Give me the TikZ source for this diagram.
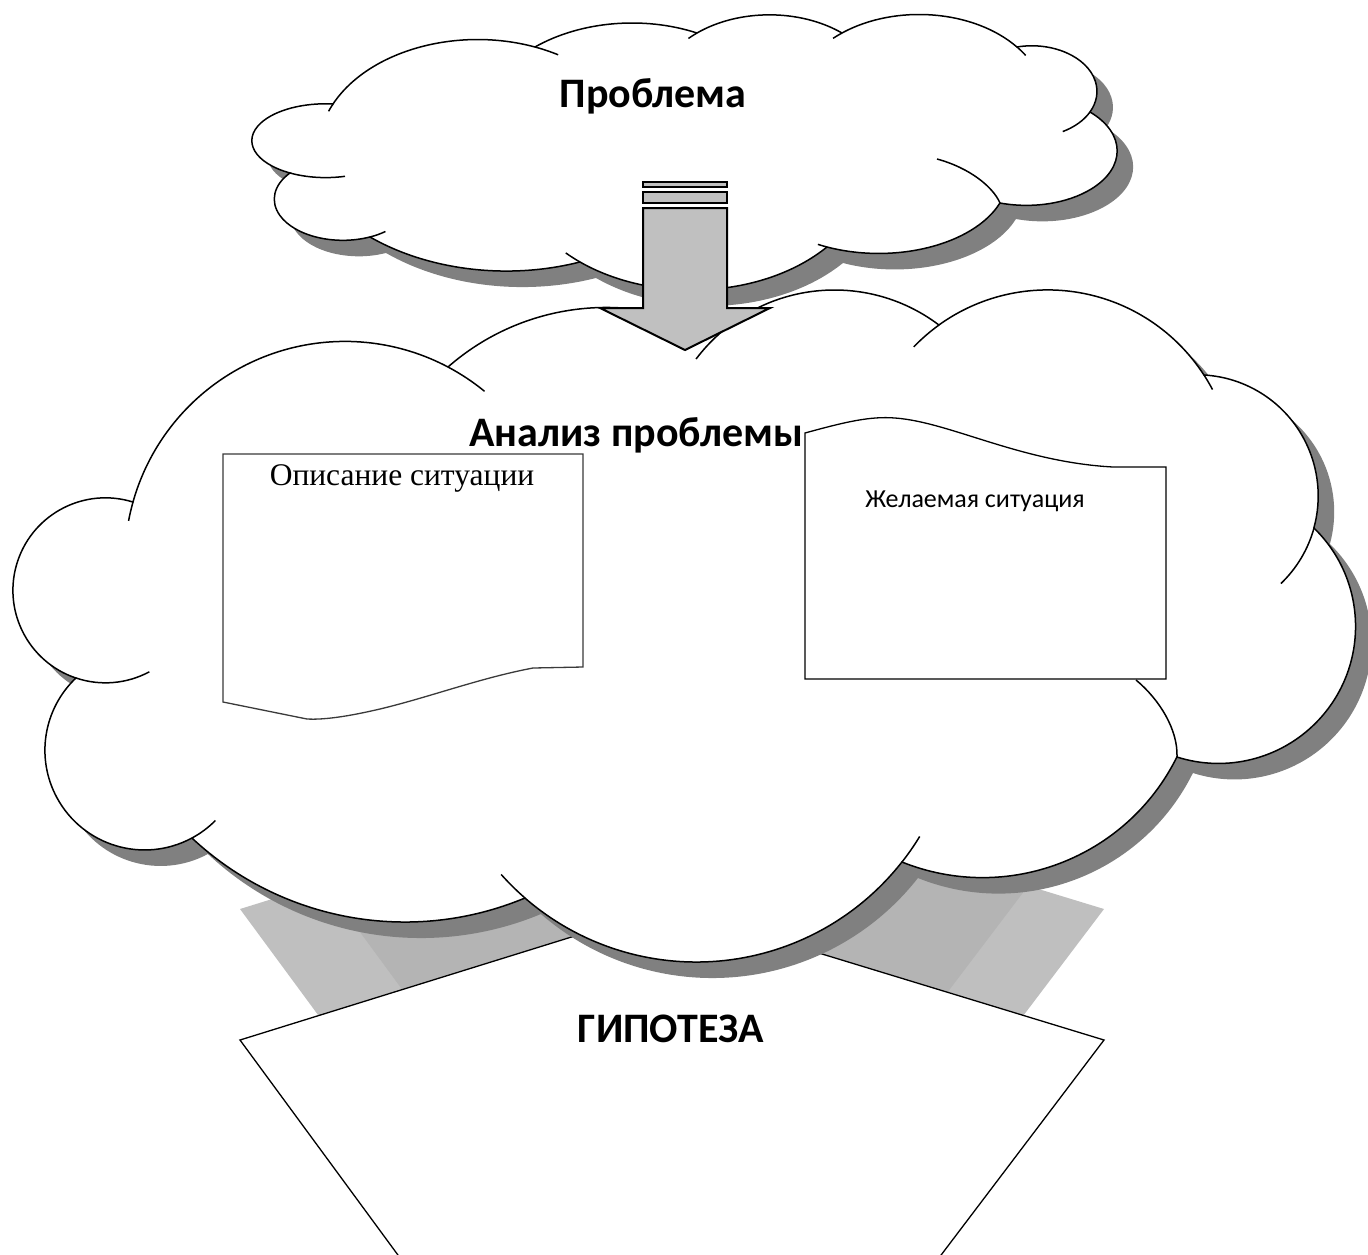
\documentclass[tikz,border=0pt]{standalone}
\usepackage{fontspec}
\setmainfont{Carlito}
\newfontfamily\tnrfont{Liberation Serif}
\definecolor{shadowgray}{HTML}{808080}
\definecolor{arrowgray}{HTML}{C0C0C0}
\definecolor{hypolight}{HTML}{BFBFBF}
\definecolor{hypodark}{HTML}{B4B4B4}
\definecolor{docline}{HTML}{3A3A3A}
\makeatletter
% \defbump{name}{x1}{y1}{x2}{y2}{x3}{y3}{k}: elliptic arc (y radius = k * x radius) through 3 points
\newcommand\defbump[8]{%
  \edef\bmp@ya{\fpeval{(#3)/(#8)}}%
  \edef\bmp@yb{\fpeval{(#5)/(#8)}}%
  \edef\bmp@yc{\fpeval{(#7)/(#8)}}%
  \edef\bmp@d{\fpeval{2*((#2)*((\bmp@yb)-(\bmp@yc))+(#4)*((\bmp@yc)-(\bmp@ya))+(#6)*((\bmp@ya)-(\bmp@yb)))}}%
  \edef\bmp@pa{\fpeval{(#2)^2+(\bmp@ya)^2}}%
  \edef\bmp@pb{\fpeval{(#4)^2+(\bmp@yb)^2}}%
  \edef\bmp@pc{\fpeval{(#6)^2+(\bmp@yc)^2}}%
  \edef\bmp@cx{\fpeval{((\bmp@pa)*((\bmp@yb)-(\bmp@yc))+(\bmp@pb)*((\bmp@yc)-(\bmp@ya))+(\bmp@pc)*((\bmp@ya)-(\bmp@yb)))/(\bmp@d)}}%
  \edef\bmp@cy{\fpeval{((\bmp@pa)*((#6)-(#4))+(\bmp@pb)*((#2)-(#6))+(\bmp@pc)*((#4)-(#2)))/(\bmp@d)}}%
  \edef\bmp@r{\fpeval{sqrt(((#2)-(\bmp@cx))^2+((\bmp@ya)-(\bmp@cy))^2)}}%
  \edef\bmp@a{\fpeval{atand((\bmp@ya)-(\bmp@cy),(#2)-(\bmp@cx))}}%
  \edef\bmp@m{\fpeval{atand((\bmp@yb)-(\bmp@cy),(#4)-(\bmp@cx))}}%
  \edef\bmp@b{\fpeval{atand((\bmp@yc)-(\bmp@cy),(#6)-(\bmp@cx))}}%
  \edef\bmp@sm{\fpeval{(\bmp@m)-(\bmp@a)-360*floor(((\bmp@m)-(\bmp@a))/360)}}%
  \edef\bmp@sq{\fpeval{(\bmp@b)-(\bmp@a)-360*floor(((\bmp@b)-(\bmp@a))/360)}}%
  \edef\bmp@e{\fpeval{((\bmp@sm)<(\bmp@sq))?((\bmp@a)+(\bmp@sq)):((\bmp@a)+(\bmp@sq)-360)}}%
  \expandafter\xdef\csname bp@#1@cx\endcsname{\bmp@cx}%
  \expandafter\xdef\csname bp@#1@cy\endcsname{\bmp@cy}%
  \expandafter\xdef\csname bp@#1@k\endcsname{#8}%
  \expandafter\xdef\csname bp@#1@r\endcsname{\bmp@r}%
  \expandafter\xdef\csname bp@#1@sa\endcsname{\bmp@a}%
  \expandafter\xdef\csname bp@#1@ea\endcsname{\bmp@e}%
  \expandafter\xdef\csname bp@#1\endcsname{ arc[start angle=\fpeval{round(\bmp@a,2)},end angle=\fpeval{round(\bmp@e,2)},x radius=\fpeval{round(\bmp@r,2)},y radius=\fpeval{round((\bmp@r)*(#8),2)}]}%
}
% \contarc{name}{s|e}{tx}{ty}: continue the bump's ellipse beyond its start/end towards (tx,ty)
\newcommand\contarc[4]{%
  \edef\ct@cx{\csname bp@#1@cx\endcsname}%
  \edef\ct@cy{\csname bp@#1@cy\endcsname}%
  \edef\ct@k{\csname bp@#1@k\endcsname}%
  \edef\ct@r{\csname bp@#1@r\endcsname}%
  \edef\ct@a{\csname bp@#1@#2a\endcsname}%
  \edef\ct@t{\fpeval{atand((#4)/(\ct@k)-(\ct@cy),(#3)-(\ct@cx))}}%
  \edef\ct@dd{\fpeval{(\ct@t)-(\ct@a)-360*round(((\ct@t)-(\ct@a))/360)}}%
  \edef\ct@px{\fpeval{round((\ct@cx)+(\ct@r)*cosd(\ct@a),2)}}%
  \edef\ct@py{\fpeval{round(((\ct@cy)+(\ct@r)*sind(\ct@a))*(\ct@k),2)}}%
  \edef\ct@sa{\fpeval{round(\ct@a,2)}}%
  \edef\ct@ea{\fpeval{round((\ct@a)+(\ct@dd),2)}}%
  \edef\ct@rx{\fpeval{round(\ct@r,2)}}%
  \edef\ct@ry{\fpeval{round((\ct@r)*(\ct@k),2)}}%
  \draw[cloudline] (\ct@px,\ct@py) arc[start angle=\ct@sa,end angle=\ct@ea,x radius=\ct@rx,y radius=\ct@ry];%
}
\makeatother
% top cloud bumps
\defbump{ta}{333}{104}{463}{40}{535}{47}{0.7}
\defbump{tb}{535}{47}{630}{23}{697}{33}{0.7}
\defbump{tc}{697}{33}{777}{15}{842}{33}{0.7}
\defbump{td}{842}{33}{933}{15}{1017}{47}{0.7}
\defbump{te}{1017}{47}{1097}{90}{1090}{112}{0.7}
\defbump{tf}{1090}{112}{1117}{147}{1000}{203}{0.6}
\defbump{tg}{1000}{203}{917}{250}{827}{247}{0.6}
\defbump{th}{827}{247}{690}{290}{580}{262}{0.7}
\defbump{ti}{580}{262}{463}{268}{370}{237}{0.7}
\defbump{tj}{370}{237}{275}{205}{290}{173}{0.6}
\defbump{tk}{290}{173}{252}{143}{333}{104}{0.5}
\edef\topcloud{(333,104)\csname bp@ta\endcsname\csname bp@tb\endcsname\csname bp@tc\endcsname\csname bp@td\endcsname\csname bp@te\endcsname\csname bp@tf\endcsname\csname bp@tg\endcsname\csname bp@th\endcsname\csname bp@ti\endcsname\csname bp@tj\endcsname\csname bp@tk\endcsname}
% big cloud bumps
\defbump{ka}{133}{502}{233}{372}{448}{367}{1}
\defbump{kb}{448}{367}{590}{308}{718}{335}{1}
\defbump{kc}{718}{335}{833}{290}{939}{325}{1}
\defbump{kd}{939}{325}{1053}{290}{1204}{375}{1}
\defbump{ke}{1204}{375}{1303}{437}{1314}{528}{1}
\defbump{kf}{1314}{528}{1355}{613}{1177}{757}{1}
\defbump{kg}{1177}{757}{1109}{837}{902}{862}{1}
\defbump{kh}{902}{862}{700}{962}{525}{898}{1}
\defbump{ki}{525}{898}{402}{922}{192}{838}{1}
\defbump{kj}{192}{838}{45}{750}{76}{678}{1}
\defbump{kk}{76}{678}{13}{590}{133}{502}{1}
\edef\bigcloud{(133,502)\csname bp@ka\endcsname\csname bp@kb\endcsname\csname bp@kc\endcsname\csname bp@kd\endcsname\csname bp@ke\endcsname\csname bp@kf\endcsname\csname bp@kg\endcsname\csname bp@kh\endcsname\csname bp@ki\endcsname\csname bp@kj\endcsname\csname bp@kk\endcsname}
\begin{document}
\begin{tikzpicture}[x=1pt,y=-1pt,
  cloudline/.style={draw=black,line width=1.5pt},
  cloudfill/.style={fill=white,draw=black,line width=1.5pt},
  cshadow/.style={fill=shadowgray},
  docbox/.style={fill=white,line width=1.3pt},
  bigtext/.style={font=\fontsize{42}{50}\selectfont\bfseries,anchor=base,inner sep=0pt},
  arrowpart/.style={fill=arrowgray,draw=black,line width=2pt,line join=miter}]
\useasboundingbox (0,0) rectangle (1368,1254);
\clip (0,0) rectangle (1368,1254);
% hypothesis shadow
\fill[hypolight] (240,909) -- (668,776) -- (1104,909) -- (877,1209) -- (461,1209) -- cycle;
\fill[hypodark] (324,883) -- (668,776) -- (1028,886) -- (828,1150) -- (520,1150) -- cycle;
% hypothesis pentagon
\filldraw[fill=white,draw=black,line width=1.3pt] (240,1040) -- (668,907) -- (1104,1040) -- (907,1300) -- (431,1300) -- cycle;
\node[bigtext] (gip) at (671,1042) {ГИПОТЕЗА};
% big cloud
\fill[cshadow,shift={(16,16)}] \bigcloud -- cycle;
\filldraw[cloudfill] \bigcloud -- cycle;
\contarc{ka}{s}{140}{523}
\contarc{ka}{e}{488}{387}
\contarc{kd}{s}{917}{350}
\contarc{kd}{e}{1206}{393}
\contarc{ke}{e}{1268}{570}
\coordinate (kgcusp) at (1177,757);
\coordinate (kgend) at (1136,680);
\draw[cloudline] (kgcusp) .. controls (1178,730) and (1160,700) .. (kgend);
\contarc{kh}{s}{909}{830}
\contarc{kh}{e}{504}{872}
\contarc{kj}{s}{228}{833}
\contarc{kk}{s}{158}{688}
% documents
\filldraw[docbox,draw=docline] (223,454) -- (583,454) -- (583,667) -- (533,668)
  .. controls (480,678) and (430,697) .. (380,709)
  .. controls (350,716) and (325,720) .. (307,719) -- (223,702) -- cycle;
\node[font=\tnrfont\fontsize{31.5}{36}\selectfont,anchor=base,inner sep=0pt] (opis) at (402,485) {Описание ситуации};
\filldraw[docbox,draw=black] (805,679) -- (805,433)
  .. controls (845,422) and (870,416) .. (895,418)
  .. controls (950,422) and (1020,462) .. (1113,467) -- (1166,467) -- (1166,679) -- cycle;
\node[font=\fontsize{26}{31}\selectfont,anchor=base,inner sep=0pt] (zhel) at (975,507) {Желаемая ситуация};
\node[bigtext] (analiz) at (636,446) {Анализ проблемы};
% top cloud
\fill[cshadow,shift={(16,16)}] \topcloud -- cycle;
\filldraw[cloudfill] \topcloud -- cycle;
\contarc{ta}{e}{558}{55}
\contarc{tc}{s}{695}{43}
\contarc{td}{s}{834}{39}
\contarc{td}{e}{1022}{57}
\contarc{te}{e}{1060}{128}
\coordinate (tgcusp) at (1000,203);
\coordinate (tgend) at (937,159);
\draw[cloudline] (tgcusp) .. controls (993,187) and (970,168) .. (tgend);
\contarc{tg}{e}{828}{233}
\contarc{th}{e}{570}{250}
\contarc{tj}{s}{390}{235}
\contarc{tk}{s}{347}{180}
\contarc{ta}{s}{335}{113}
\node[bigtext] (prob) at (653,107) {Проблема};
% arrow
\filldraw[arrowpart] (643,182) rectangle (727,187);
\filldraw[arrowpart] (643,192) rectangle (727,203);
\filldraw[arrowpart] (643,208) -- (727,208) -- (727,308) -- (770,308) -- (685,350) -- (600,308) -- (643,308) -- cycle;
\contarc{kc}{s}{700}{362}
\end{tikzpicture}
\end{document}
